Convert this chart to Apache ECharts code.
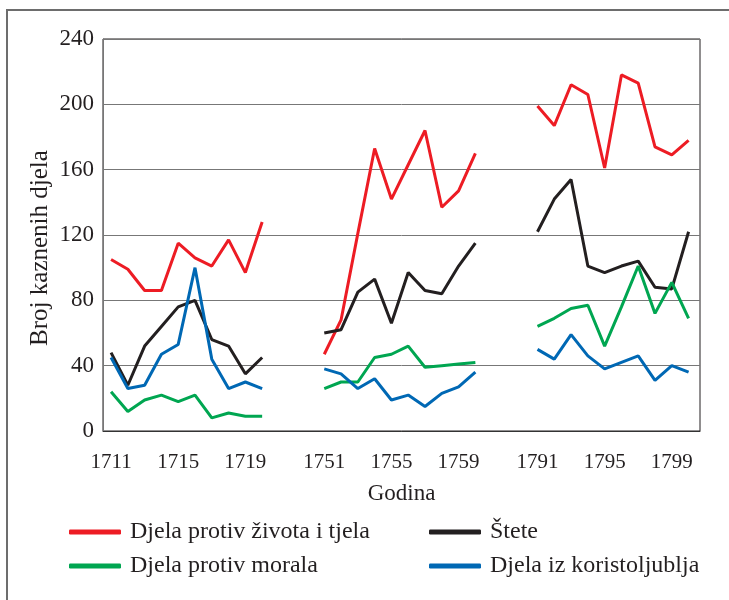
<!DOCTYPE html>
<html>
<head>
  <meta charset="UTF-8">
  <script src="https://cdn.jsdelivr.net/npm/echarts@6.0.0/dist/echarts.min.js"></script>
  <title></title>
  <style>
    html, body { margin: 0; padding: 0; background: #fff; }
    #chart { width: 729px; height: 600px; }
  </style>
</head>
<body>
  <div id="chart"></div>
  <script>
  // years, three separate decades
  const years = [1711, 1712, 1713, 1714, 1715, 1716, 1717, 1718, 1719, 1720,
                 1751, 1752, 1753, 1754, 1755, 1756, 1757, 1758, 1759, 1760,
                 1791, 1792, 1793, 1794, 1795, 1796, 1797, 1798, 1799, 1800];
  const groupStarts = [1711, 1751, 1791];
  const tickYears = [1711, 1715, 1719, 1751, 1755, 1759, 1791, 1795, 1799];

  const zivotTijelo = [105, 99, 86, 86, 115, 106, 101, 117, 97, 128,
                       47, 68, 121, 173, 142, 163, 184, 137, 147, 170,
                       199, 187, 212, 206, 161, 218, 213, 174, 169, 178];
  const stete = [48, 28, 52, 64, 76, 80, 56, 52, 35, 45,
                 60, 62, 85, 93, 66, 97, 86, 84, 101, 115,
                 122, 142, 154, 101, 97, 101, 104, 88, 87, 122];
  const morala = [24, 12, 19, 22, 18, 22, 8, 11, 9, 9,
                  26, 30, 30, 45, 47, 52, 39, 40, 41, 42,
                  64, 69, 75, 77, 52, 76, 101, 72, 91, 69];
  const koristoljublje = [45, 26, 28, 47, 53, 100, 44, 26, 30, 26,
                          38, 35, 26, 32, 19, 22, 15, 23, 27, 36,
                          50, 44, 59, 46, 38, 42, 46, 31, 40, 36];

  const GROUP_GAP = 12.7;
  const FONT = 'Liberation Serif';

  function pos(year) {
    let g = 0;
    for (let i = 0; i < groupStarts.length; i++) if (year >= groupStarts[i]) g = i;
    return g * GROUP_GAP + (year - groupStarts[g]);
  }

  // line breaks between the decades
  function build(values) {
    const out = [];
    for (let i = 0; i < years.length; i++) {
      if (i > 0 && groupStarts.indexOf(years[i]) >= 0) out.push([pos(years[i]), '-']);
      out.push([pos(years[i]), values[i]]);
    }
    return out;
  }

  function serie(name, values, color) {
    return {
      name: name,
      type: 'line',
      data: build(values),
      showSymbol: false,
      symbol: 'none',
      connectNulls: false,
      lineStyle: { color: color, width: 3 },
      itemStyle: { color: color },
      animation: false
    };
  }

  const legendText = { fontFamily: FONT, fontSize: 24, color: '#231f20', lineHeight: 26, padding: [0, 0, 0, 4] };

  const chart = echarts.init(document.getElementById('chart'));
  chart.setOption({
    animation: false,
    textStyle: { fontFamily: FONT },
    grid: {
      left: 103, right: 29, top: 39, bottom: 169,
      show: true, borderColor: '#231f20', borderWidth: 1
    },
    graphic: [{
      type: 'rect',
      shape: { x: 7, y: 10, width: 800, height: 700 },
      style: { fill: 'none', stroke: '#6d6d6d', lineWidth: 2 },
      silent: true
    }],
    legend: [{
      data: ['Djela protiv života i tjela', 'Djela protiv morala'],
      orient: 'vertical', left: 64, top: 514,
      icon: 'roundRect', itemWidth: 52, itemHeight: 5, itemGap: 8,
      textStyle: legendText
    }, {
      data: ['Štete', 'Djela iz koristoljublja'],
      orient: 'vertical', left: 424, top: 514,
      icon: 'roundRect', itemWidth: 52, itemHeight: 5, itemGap: 8,
      textStyle: legendText
    }],
    xAxis: {
      type: 'value',
      min: -0.48, max: 35.08,
      name: 'Godina',
      nameLocation: 'middle',
      nameGap: 51,
      nameTextStyle: { fontFamily: FONT, fontSize: 23, color: '#231f20' },
      axisLine: { show: true, lineStyle: { color: '#333', width: 1 } },
      axisTick: { show: false },
      splitLine: { show: false },
      axisLabel: {
        customValues: tickYears.map(pos),
        formatter: function (v) {
          for (const y of tickYears) if (Math.abs(pos(y) - v) < 0.01) return String(y);
          return '';
        },
        fontFamily: FONT, fontSize: 21, color: '#231f20', margin: 21
      }
    },
    yAxis: {
      type: 'value',
      min: 0, max: 240, interval: 40,
      name: 'Broj kaznenih djela',
      nameLocation: 'middle',
      nameGap: 50,
      nameMoveOverlap: false,
      nameTextStyle: { fontFamily: FONT, fontSize: 25, color: '#231f20', padding: [0, 26, 0, 0] },
      axisLine: { show: true, onZero: false, lineStyle: { color: '#777', width: 1 } },
      axisTick: { show: false },
      splitLine: { show: true, lineStyle: { color: '#777', width: 1 } },
      axisLabel: { fontFamily: FONT, fontSize: 23, color: '#231f20', margin: 9 }
    },
    series: [
      serie('Djela protiv života i tjela', zivotTijelo, '#ed1c24'),
      serie('Štete', stete, '#231f20'),
      serie('Djela protiv morala', morala, '#00a651'),
      serie('Djela iz koristoljublja', koristoljublje, '#0068b4')
    ]
  });
  </script>
</body>
</html>
